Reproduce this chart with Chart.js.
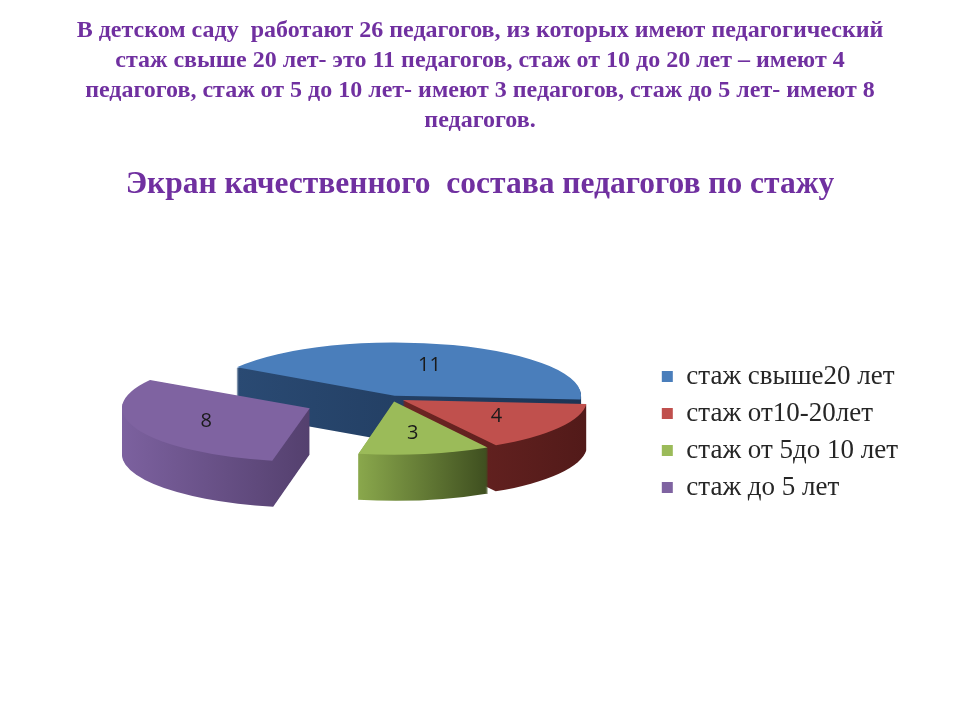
<!DOCTYPE html>
<html lang="ru">
<head>
<meta charset="utf-8">
<script src="https://cdn.jsdelivr.net/npm/chart.js@4.4.1/dist/chart.umd.min.js"></script>
<style>
  html, body { margin: 0; padding: 0; background: #fff; }
  #page { position: relative; width: 960px; height: 720px; overflow: hidden; }
  #chart { position: absolute; left: 0; top: 0; }
  .txt { position: absolute; left: 0; width: 960px; text-align: center; color: #7030a0;
         font-family: "Liberation Serif", "Times New Roman", serif; font-weight: bold; white-space: nowrap; }
  #intro { top: 14px; font-size: 24px; line-height: 30px; }
  #heading { top: 163px; font-size: 31.5px; line-height: 40px; }
</style>
</head>
<body>
<div id="page">
  <canvas id="chart" width="960" height="720"></canvas>
  <div class="txt" id="intro">
    В детском саду&nbsp; работают 26 педагогов, из которых имеют педагогический<br>
    стаж свыше 20 лет- это 11 педагогов, стаж от 10 до 20 лет – имеют 4<br>
    педагогов, стаж от 5 до 10 лет- имеют 3 педагогов, стаж до 5 лет- имеют 8<br>
    педагогов.
  </div>
  <div class="txt" id="heading">Экран качественного&nbsp; состава педагогов по стажу</div>
</div>
<script>
// --- данные ---
const categories = ['стаж свыше20 лет', 'стаж от10-20лет', 'стаж от 5до 10 лет', 'стаж до 5 лет'];
const counts = [11, 4, 3, 8];

// --- оформление ---
const topColors  = ['#4a7ebb', '#c0504d', '#9bbb59', '#7f63a1'];
const sideLight  = ['#2a4a73', '#6e2624', '#8aa84c', '#7c619f'];
const sideDark   = ['#1c3454', '#521a19', '#3e4e1f', '#54406e'];
const explode    = [24, 36, 36, 256];   // chart.js сдвигает на offset/4

// куда и как "положить" круг
const PIE_X = 392, PIE_Y = 398, PIE_RX = 182, PIE_RY = 52, DEPTH = 46;

function tilt(ctx, arc) {
  ctx.translate(PIE_X, PIE_Y);
  ctx.scale(PIE_RX / arc.outerRadius, PIE_RY / arc.outerRadius);
  ctx.translate(-arc.x, -arc.y);
}

function sliceGeom(arc) {
  const off = (arc.options.offset || 0) / 4;
  const mid = (arc.startAngle + arc.endAngle) / 2;
  const fix = 1 - Math.sin(Math.min(Math.PI, arc.circumference || 0));
  return {
    x: arc.x + Math.cos(mid) * off,
    y: arc.y + Math.sin(mid) * off,
    r: arc.outerRadius + off * fix,
    mid: mid
  };
}

function slicePath(ctx, arc) {
  const g = sliceGeom(arc);
  ctx.beginPath();
  ctx.moveTo(g.x, g.y);
  ctx.arc(g.x, g.y, g.r, arc.startAngle, arc.endAngle);
  ctx.closePath();
}

const pie3d = {
  id: 'pie3d',
  beforeDatasetsDraw(chart) {
    const ctx = chart.ctx;
    const arcs = chart.getDatasetMeta(0).data;
    // бока: от дальних к ближним
    const order = arcs.map((a, i) => i).sort((a, b) =>
      Math.sin(sliceGeom(arcs[a]).mid) - Math.sin(sliceGeom(arcs[b]).mid));
    order.forEach(i => {
      const arc = arcs[i];
      const g = sliceGeom(arc);
      let minX = g.x, maxX = g.x;
      for (let k = 0; k <= 20; k++) {
        const t = arc.startAngle + (arc.endAngle - arc.startAngle) * k / 20;
        const px = g.x + Math.cos(t) * g.r;
        minX = Math.min(minX, px); maxX = Math.max(maxX, px);
      }
      for (let d = DEPTH; d >= 1; d--) {
        ctx.save();
        ctx.translate(0, d);
        tilt(ctx, arc);
        const grad = ctx.createLinearGradient(minX, 0, maxX, 0);
        grad.addColorStop(0, sideLight[i]);
        grad.addColorStop(1, sideDark[i]);
        ctx.fillStyle = grad;
        slicePath(ctx, arc);
        ctx.fill();
        ctx.restore();
      }
    });
    ctx.save();
    tilt(ctx, arcs[0]);
  },
  afterDatasetsDraw(chart) {
    const ctx = chart.ctx;
    ctx.restore();
    const arcs = chart.getDatasetMeta(0).data;
    ctx.save();
    ctx.font = '20px "Open Sans", "Liberation Sans", sans-serif';
    ctx.fillStyle = '#1a1a1a';
    ctx.textAlign = 'center';
    ctx.textBaseline = 'middle';
    arcs.forEach((arc, i) => {
      const g = sliceGeom(arc);
      const lx = g.x + Math.cos(g.mid) * g.r * 0.6;
      const ly = g.y + Math.sin(g.mid) * g.r * 0.6;
      const sx = PIE_X + (lx - arc.x) * PIE_RX / arc.outerRadius;
      const sy = PIE_Y + (ly - arc.y) * PIE_RY / arc.outerRadius;
      ctx.fillText(String(counts[i]), sx, sy);
    });
    ctx.restore();
  }
};

new Chart(document.getElementById('chart'), {
  type: 'pie',
  data: {
    labels: categories,
    datasets: [{
      data: counts,
      backgroundColor: topColors,
      borderWidth: 0,
      offset: explode,
      hoverOffset: 0,
      clip: false
    }]
  },
  options: {
    responsive: false,
    animation: false,
    events: [],
    rotation: -58,
    radius: 130,
    layout: { padding: { top: 144, bottom: 0, left: 0, right: 52 } },
    plugins: {
      tooltip: { enabled: false },
      legend: {
        position: 'right',
        labels: {
          boxWidth: 11,
          boxHeight: 11,
          padding: 10,
          color: '#262626',
          font: { family: '"Liberation Serif", "Times New Roman", serif', size: 27 }
        }
      }
    }
  },
  plugins: [pie3d]
});
</script>
</body>
</html>
